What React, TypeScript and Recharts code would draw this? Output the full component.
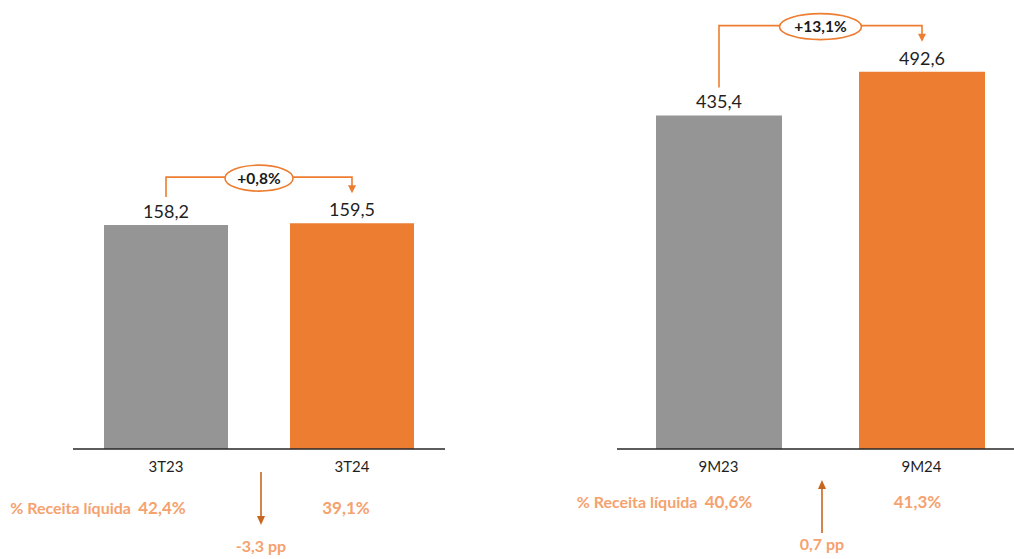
import React from "react";
import { BarChart, Bar, XAxis, YAxis, LabelList, Cell } from "recharts";

// 3T: third quarter comparison
const quarterLabels = ["3T23", "3T24"];
const quarterValues = [158.2, 159.5];
const quarterMargins = [42.4, 39.1];
const quarterGrowth = "+0,8%";
const quarterDelta = "-3,3 pp";

// 9M: year to date comparison
const ytdLabels = ["9M23", "9M24"];
const ytdValues = [435.4, 492.6];
const ytdMargins = [40.6, 41.3];
const ytdGrowth = "+13,1%";
const ytdDelta = "0,7 pp";

const GRAY = "#959595";
const ORANGE = "#ED7D31";
const LIGHT = "#F5A26F";
const ARROW = "#C8661F";
const FONT = "Lato, 'Open Sans', sans-serif";

const fmt = (v: number) => v.toFixed(1).replace(".", ",");

interface PanelProps {
  labels: string[];
  values: number[];
  margins: number[];
  growth: string;
  delta: string;
  deltaUp: boolean;
  domainMax: number;
  left: number;
  width: number;
  margin: { top: number; right: number; left: number; bottom: number };
  barSize: number;
  ellipseRx: number;
  pctShift: number[];
  pctDy: number;
  arrowFrom: number;
  arrowTo: number;
  deltaDy: number;
}

function Panel(p: PanelProps) {
  const data = p.labels.map((name, i) => ({ name, value: p.values[i] }));
  const step = (p.width - p.margin.left - p.margin.right) / p.labels.length;
  const tops: { x: number; y: number }[] = [];

  const renderLabel = (props: any) => {
    const vb = props.viewBox ?? props;
    const x = Number(vb.x ?? props.x);
    const y = Number(vb.y ?? props.y);
    const w = Number(vb.width ?? props.width);
    const value = Number(props.value);
    const index = props.index ?? p.values.indexOf(value);
    const cx = x + w / 2;
    tops[index] = { x: cx, y };
    const label = (
      <text x={cx} y={y - 7} textAnchor="middle" fontSize={18} fill="#1f1f1f" fontFamily={FONT}>
        {fmt(value)}
      </text>
    );
    if (index !== data.length - 1 || !tops[0]) return <g>{label}</g>;

    const a = tops[0];
    const b = tops[index];
    const lineY = Math.min(a.y, b.y) - 46;
    const mid = (a.x + b.x) / 2;
    const tip = b.y - 30;
    return (
      <g>
        {label}
        <path
          d={`M${a.x},${a.y - 28} V${lineY} H${mid - p.ellipseRx}`}
          fill="none"
          stroke={ORANGE}
          strokeWidth={1.6}
        />
        <path
          d={`M${mid + p.ellipseRx},${lineY} H${b.x} V${tip - 6}`}
          fill="none"
          stroke={ORANGE}
          strokeWidth={1.6}
        />
        <path d={`M${b.x - 4},${tip - 8} L${b.x + 4},${tip - 8} L${b.x},${tip} Z`} fill={ORANGE} />
        <ellipse cx={mid} cy={lineY + 1} rx={p.ellipseRx} ry={13} fill="#fff" stroke={ORANGE} strokeWidth={1.6} />
        <text
          x={mid}
          y={lineY + 6.5}
          textAnchor="middle"
          fontSize={15.5}
          fontWeight={700}
          fill="#1a1a1a"
          fontFamily={FONT}
        >
          {p.growth}
        </text>
      </g>
    );
  };

  const renderTick = (props: any) => {
    const { x, y, payload } = props;
    const i = props.index ?? p.labels.indexOf(payload.value);
    const pctX = x + p.pctShift[i];
    const axisY = y - 8;
    const ax = x - step / 2 + 2;
    const y1 = axisY + p.arrowFrom;
    const y2 = axisY + p.arrowTo;
    const head = p.deltaUp ? y1 : y2;
    const dir = p.deltaUp ? 1 : -1;
    return (
      <g fontFamily={FONT}>
        <text x={x} y={axisY + 23} textAnchor="middle" fontSize={15} fill="#1f1f1f">
          {payload.value}
        </text>
        <text x={pctX} y={axisY + p.pctDy} textAnchor="middle" fontSize={17} fontWeight={700} fill={LIGHT}>
          {fmt(p.margins[i]) + "%"}
        </text>
        {i === 0 && (
          <text x={pctX - 31} y={axisY + p.pctDy} textAnchor="end" fontSize={16} fontWeight={700} fill={LIGHT}>
            % Receita líquida
          </text>
        )}
        {i === p.labels.length - 1 && (
          <g>
            <line
              x1={ax}
              x2={ax}
              y1={p.deltaUp ? y1 + 8 : y1}
              y2={p.deltaUp ? y2 : y2 - 8}
              stroke={ARROW}
              strokeWidth={1.6}
            />
            <path
              d={`M${ax - 4},${head + dir * 9} L${ax + 4},${head + dir * 9} L${ax},${head} Z`}
              fill={ARROW}
            />
            <text x={ax} y={axisY + p.deltaDy} textAnchor="middle" fontSize={16} fontWeight={700} fill={LIGHT}>
              {p.delta}
            </text>
          </g>
        )}
      </g>
    );
  };

  return (
    <div style={{ position: "absolute", left: p.left, top: 0 }}>
      <BarChart width={p.width} height={559} data={data} margin={p.margin}>
        <XAxis
          dataKey="name"
          height={30}
          tickLine={false}
          axisLine={{ stroke: "#262626", strokeWidth: 1.6 }}
          tick={renderTick}
          interval={0}
        />
        <YAxis hide domain={[0, p.domainMax]} />
        <Bar dataKey="value" barSize={p.barSize} isAnimationActive={false}>
          {data.map((d, i) => (
            <Cell key={d.name} fill={i === 0 ? GRAY : ORANGE} />
          ))}
          <LabelList dataKey="value" content={renderLabel} />
        </Bar>
      </BarChart>
    </div>
  );
}

export default function App() {
  return (
    <div
      style={{
        position: "absolute",
        left: 0,
        top: 0,
        width: 1014,
        height: 559,
        overflow: "hidden",
        background: "#fff",
      }}
    >
      <Panel
        labels={quarterLabels}
        values={quarterValues}
        margins={quarterMargins}
        growth={quarterGrowth}
        delta={quarterDelta}
        deltaUp={false}
        domainMax={250}
        left={0}
        width={460}
        margin={{ top: 95, right: 15, left: 73, bottom: 80 }}
        barSize={124}
        ellipseRx={34}
        pctShift={[-4, -6]}
        pctDy={65}
        arrowFrom={23}
        arrowTo={76}
        deltaDy={103}
      />
      <Panel
        labels={ytdLabels}
        values={ytdValues}
        margins={ytdMargins}
        growth={ytdGrowth}
        delta={ytdDelta}
        deltaUp={true}
        domainMax={500}
        left={560}
        width={470}
        margin={{ top: 66, right: 7, left: 57, bottom: 80 }}
        barSize={126}
        ellipseRx={41}
        pctShift={[10, -4]}
        pctDy={59}
        arrowFrom={31}
        arrowTo={84}
        deltaDy={101}
      />
    </div>
  );
}
